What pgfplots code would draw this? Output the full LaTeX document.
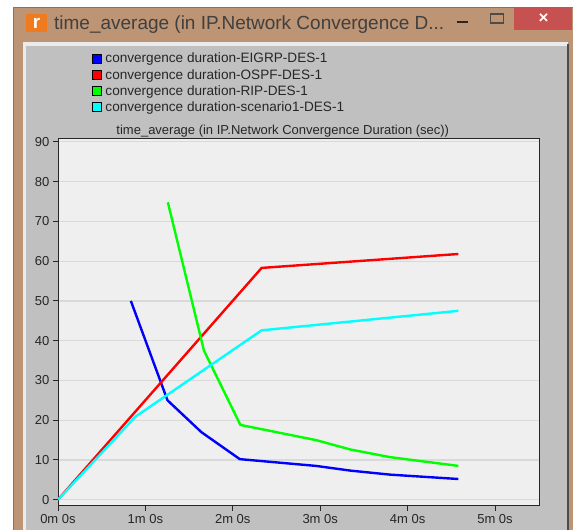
\documentclass[border=0pt]{standalone}
\usepackage{pgfplots}
\pgfplotsset{compat=1.18}
\usepackage{fontspec}
\setmainfont{Liberation Sans}
\definecolor{frametan}{HTML}{BD9474}
\definecolor{panelgray}{HTML}{C0C0C0}
\definecolor{plotbg}{HTML}{EFEFEF}
\definecolor{gridc}{HTML}{D9D9D9}
\definecolor{txt}{HTML}{262626}
\definecolor{closered}{HTML}{C75050}
\definecolor{iconorange}{HTML}{F07A1E}
\definecolor{cy}{HTML}{00FFFF}
\definecolor{bl}{HTML}{0000FF}
\definecolor{rd}{HTML}{FF0000}
\definecolor{gr}{HTML}{00FF00}
\pgfplotstableread{
x y
0.834 50
1.253 25
1.64 17.0
2.08 10.2
2.95 8.5
3.35 7.3
3.8 6.3
4.58 5.2
}\eigrp
\pgfplotstableread{
x y
0 0
2.33 58.3
4.58 61.8
}\ospf
\pgfplotstableread{
x y
1.257 74.8
1.67 37.5
2.087 18.8
2.95 15
3.35 12.6
3.8 10.7
4.58 8.5
}\rip
\pgfplotstableread{
x y
0 0
0.888 20.9
2.33 42.6
4.58 47.5
}\scen
\begin{document}
\begin{tikzpicture}[x=1pt,y=1pt]
\path (0,0) rectangle (573,530);
\fill[frametan] (13,0) rectangle (573,523);
\draw[frametan!75!black,line width=0.8pt] (13,0) -- (13,523) -- (573,523);
\fill[closered] (514,500) rectangle (572,523);
\node[white,font=\bfseries\fontsize{17}{17}\selectfont] at (544,511) {×};
\fill[white!92!black] (23,0) rectangle (568,488);
\fill[panelgray] (26,0) rectangle (567,484);
\fill[black!70] (567,0) rectangle (569,486);
\fill[iconorange] (26,498) rectangle (47,516);
\node[white,font=\bfseries\fontsize{19}{19}\selectfont] at (36.5,507) {r};
\node[anchor=base west,text=black!75,inner sep=0pt,font=\fontsize{19}{19}\selectfont] at (54,500) {time\_average (in IP.Network Convergence D...};
\draw[black!85,line width=1.4pt] (457,508) -- (468,508);
\draw[black!70,line width=1.2pt] (491,507) rectangle (504,516);
\begin{axis}[
  at={(58pt,24pt)},anchor=south west,
  scale only axis,width=482pt,height=367pt,
  xmin=0,xmax=5.51,ymin=-1.5,ymax=90.75,
  axis background/.style={fill=plotbg},
  axis line style={draw=black!85,line width=0.9pt},
  xtick={0,1,2,3,4,5},
  xticklabels={0m 0s,1m 0s,2m 0s,3m 0s,4m 0s,5m 0s},
  ytick={0,10,...,90},
  tick align=outside,
  tick style={draw=black!85,line width=0.9pt},
  major tick length=5pt,
  xtick pos=bottom,ytick pos=left,
  ymajorgrids,
  grid style={gridc,line width=1.2pt},
  tick label style={font=\fontsize{13}{13}\selectfont,text=txt},
  /pgf/number format/assume math mode=true,
  title={time\_average (in IP.Network Convergence Duration (sec))},
  title style={font=\fontsize{13}{13}\selectfont,text=txt,at={(0.5,1)},anchor=south,xshift=-16pt,yshift=-6.5pt,inner sep=2pt},
  legend cell align=left,
  legend style={at={(0.0705,1.24)},anchor=north west,draw=none,fill=none,
    font=\fontsize{13.6}{13.6}\selectfont,text=txt,row sep=0.8pt,inner sep=0pt},
  every axis plot/.append style={line width=2.4pt,line join=round},
]
\addplot[bl,no markers,forget plot] table {\eigrp};
\addplot[rd,no markers,forget plot] table {\ospf};
\addplot[gr,no markers,forget plot] table {\rip};
\addplot[cy,no markers,forget plot] table {\scen};
\addlegendimage{legend image code/.code={\path[draw=none,fill=none] (0pt,0pt) rectangle (11pt,1pt);\draw[draw=black,line width=0.7pt,fill=bl] (0pt,-4.5pt) rectangle (9pt,4.5pt);}}
\addlegendentry{convergence duration-EIGRP-DES-1}
\addlegendimage{legend image code/.code={\path[draw=none,fill=none] (0pt,0pt) rectangle (11pt,1pt);\draw[draw=black,line width=0.7pt,fill=rd] (0pt,-4.5pt) rectangle (9pt,4.5pt);}}
\addlegendentry{convergence duration-OSPF-DES-1}
\addlegendimage{legend image code/.code={\path[draw=none,fill=none] (0pt,0pt) rectangle (11pt,1pt);\draw[draw=black,line width=0.7pt,fill=gr] (0pt,-4.5pt) rectangle (9pt,4.5pt);}}
\addlegendentry{convergence duration-RIP-DES-1}
\addlegendimage{legend image code/.code={\path[draw=none,fill=none] (0pt,0pt) rectangle (11pt,1pt);\draw[draw=black,line width=0.7pt,fill=cy] (0pt,-4.5pt) rectangle (9pt,4.5pt);}}
\addlegendentry{convergence duration-scenario1-DES-1}
\end{axis}
\end{tikzpicture}
\end{document}
